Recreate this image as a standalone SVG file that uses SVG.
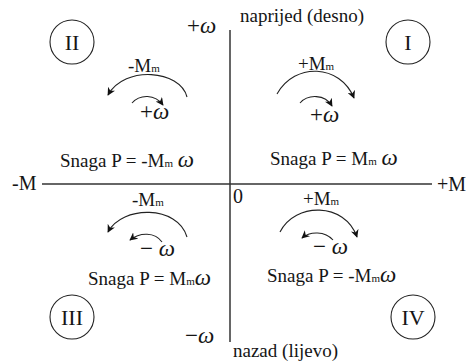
<svg xmlns="http://www.w3.org/2000/svg" width="470" height="362" viewBox="0 0 470 362">
<defs>
<marker id="ah" viewBox="0 0 10 10" refX="9" refY="5" markerWidth="8" markerHeight="8" orient="auto" markerUnits="userSpaceOnUse">
<path d="M0,0 L10,5 L0,10 L3,5 z" fill="#111"/>
</marker>
<style>
text{font-family:'Liberation Serif','DejaVu Serif',serif;fill:#151515;font-size:19px}
.big{font-size:20px}
.pw{font-size:23px}
.sub{font-size:11px}
.w{font-style:italic;font-size:23px}
.ax{stroke:#333;stroke-width:1.5;fill:none}
.arc{stroke:#222;stroke-width:1.1;fill:none;marker-end:url(#ah)}
.q circle{fill:none;stroke:#222;stroke-width:1.1}
.q text{font-size:22px;text-anchor:middle}
</style>
</defs>
<rect width="470" height="362" fill="#fff"/>
<g id="axes">
<line class="ax" x1="230" y1="30" x2="230" y2="342"/>
<line class="ax" x1="42" y1="184" x2="432" y2="184"/>
</g>
<g id="axis-labels">
<text class="big" x="12" y="190">-M</text>
<text class="big" x="437" y="191">+M</text>
<text class="big" x="233" y="203">0</text>
<text class="pw" x="187" y="33">+<tspan class="w">ω</tspan></text>
<text x="240" y="22">naprijed (desno)</text>
<text class="pw" x="185" y="343">−<tspan class="w">ω</tspan></text>
<text x="233" y="357">nazad (lijevo)</text>
</g>
<g id="quadrant-I" class="q">
<circle cx="408" cy="42" r="22"/>
<text x="408" y="50">I</text>
</g>
<g id="quadrant-II" class="q">
<circle cx="72" cy="42" r="22"/>
<text x="72" y="50">II</text>
</g>
<g id="quadrant-III" class="q">
<circle cx="72" cy="317" r="22"/>
<text x="72" y="325">III</text>
</g>
<g id="quadrant-IV" class="q">
<circle cx="413" cy="317" r="22"/>
<text x="413" y="325">IV</text>
</g>
<g id="connectors">
<path class="arc" d="M187,97 C180,70 125,65 108,95"/>
<path class="arc" d="M132,103 C140,94 155,94 163,105"/>
<path class="arc" d="M277,94 C295,62 340,64 354,98"/>
<path class="arc" d="M300,103 C308,94 325,94 332,106"/>
<path class="arc" d="M187,237 C178,205 122,205 108,232"/>
<path class="arc" d="M162,242 C155,232 140,232 130,240"/>
<path class="arc" d="M280,232 C295,202 345,202 357,237"/>
<path class="arc" d="M333,240 C325,231 310,231 302,238"/>
</g>
<g id="labels-II">
<text x="128" y="72">-M<tspan class="sub">m</tspan></text>
<text class="pw" x="140" y="119">+<tspan class="w">ω</tspan></text>
<text x="60" y="167">Snaga P = -M<tspan class="sub">m</tspan> <tspan class="w">ω</tspan></text>
</g>
<g id="labels-I">
<text x="298" y="70">+M<tspan class="sub">m</tspan></text>
<text class="pw" x="310" y="122">+<tspan class="w">ω</tspan></text>
<text x="270" y="165">Snaga P = M<tspan class="sub">m</tspan> <tspan class="w">ω</tspan></text>
</g>
<g id="labels-III">
<text x="132" y="206">-M<tspan class="sub">m</tspan></text>
<text class="pw" x="140" y="256">− <tspan class="w">ω</tspan></text>
<text x="88" y="285">Snaga P = M<tspan class="sub">m</tspan><tspan class="w">ω</tspan></text>
</g>
<g id="labels-IV">
<text x="303" y="205">+M<tspan class="sub">m</tspan></text>
<text class="pw" x="313" y="254">− <tspan class="w">ω</tspan></text>
<text x="267" y="282">Snaga P = -M<tspan class="sub">m</tspan><tspan class="w">ω</tspan></text>
</g>
</svg>
